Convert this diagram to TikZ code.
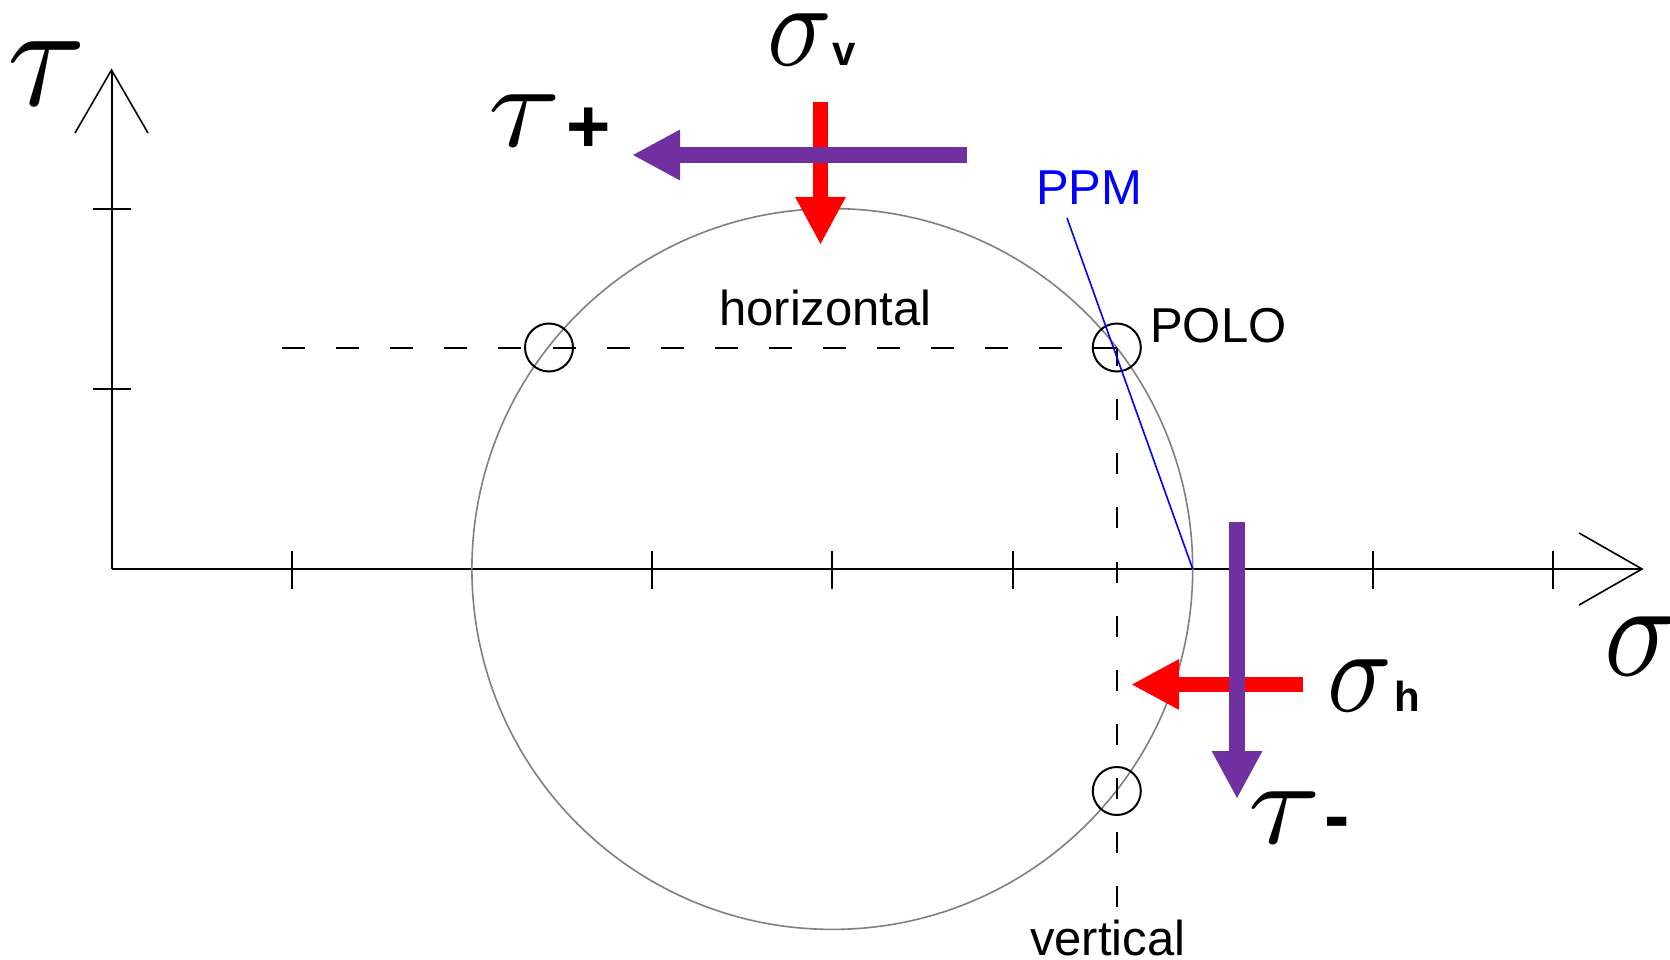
\documentclass[tikz,border=0pt]{standalone}
\usepackage{fontspec}
\usepackage{graphicx}
\setmainfont{Liberation Sans}
\usetikzlibrary{arrows.meta}
\definecolor{arrpurple}{HTML}{7030A0}
\definecolor{arrred}{HTML}{FF0000}
\definecolor{circgray}{HTML}{808080}
\definecolor{ppmblue}{HTML}{0000FF}
\newcommand{\gsig}[2]{\scalebox{#1}[#2]{$\sigma$}}
\newcommand{\gtau}[2]{\scalebox{#1}[#2]{$\tau$}}
\begin{document}
\begin{tikzpicture}[x=1pt,y=-1pt,
  axisline/.style={line width=2pt,black},
  armline/.style={line width=1.6pt,black},
  tickline/.style={line width=2pt,black},
  dashline/.style={line width=2pt,black,dash pattern=on 21pt off 33.1pt},
  mohr/.style={line width=1.6pt,circgray},
  marker/.style={line width=2pt,black},
  force/.style={line width=15.5pt,-{Triangle[length=48pt,width=47pt]}},
  lbl/.style={inner sep=0pt,anchor=base west,font=\fontsize{49}{49}\selectfont},
  greeklbl/.style={inner sep=0pt,anchor=base west},
  subl/.style={inner sep=0pt,anchor=base west,font=\bfseries\fontsize{42}{42}\selectfont},
  signl/.style={inner sep=0pt,anchor=base west,font=\bfseries\fontsize{76}{76}\selectfont},
]
\useasboundingbox (0,0) rectangle (1670,960);
\fill[white] (0,0) rectangle (1670,960);

% axes
\coordinate (O) at (111.5,569);
\coordinate (Ytip) at (111.5,70);
\coordinate (Yl) at (75,133);
\coordinate (Yr) at (148,133);
\coordinate (Xtip) at (1642,569);
\coordinate (Xu) at (1579,533);
\coordinate (Xd) at (1579,605);
\draw[axisline] (O) -- (Ytip);
\draw[axisline] (O) -- (Xtip);
\draw[armline] (Yl) -- (Ytip) -- (Yr);
\draw[armline] (Xu) -- (Xtip) -- (Xd);
\foreach \k in {1,3,4,5,7,8}
  \draw[tickline] ({111.5+\k*180.2},551) -- ++(0,38);
\foreach \k in {1,2}
  \draw[tickline] (93,{569-\k*180.2}) -- ++(38,0);

% Mohr circle
\coordinate (C) at (832.3,569);
\draw[mohr] (C) circle[radius=360.4];

% pole construction
\coordinate (P) at (1116.8,347.5);
\coordinate (Pl) at (549,347.5);
\coordinate (Pb) at (1116.8,791);
\coordinate (Hend) at (282,347.5);
\coordinate (Vend) at (1116.8,907);
\draw[dashline,dash pattern=on 23pt off 31.1pt] (Hend) -- (P);
\draw[dashline,dash phase=2.4pt] (P) -- (Vend);
\draw[marker] (P) circle[radius=24];
\draw[marker] (Pl) circle[radius=24];
\draw[marker] (Pb) circle[radius=24];
\coordinate (S6) at (1192.7,569);
\coordinate (Ptop) at (1067,218);
\draw[line width=1.6pt,ppmblue] (S6) -- (Ptop);

% force arrows
\coordinate (Rv1) at (820.5,102);
\coordinate (Rv2) at (820.5,245);
\coordinate (Ph1) at (967,155);
\coordinate (Ph2) at (632,155);
\coordinate (Rh1) at (1303,684.5);
\coordinate (Rh2) at (1131,684.5);
\coordinate (Pv1) at (1237,522);
\coordinate (Pv2) at (1237,799);
\draw[force,arrred] (Rv1) -- (Rv2);
\draw[force,arrpurple] (Ph1) -- (Ph2);
\draw[force,arrred] (Rh1) -- (Rh2);
\draw[force,arrpurple] (Pv1) -- (Pv2);

% labels
\node[lbl] (horiz) at (719,325) {horizontal};
\node[lbl] (polo) at (1150,342) {POLO};
\node[lbl,text=ppmblue] (ppm) at (1036,205) {PPM};
\node[lbl] (vert) at (1030,955) {vertical};

\node[greeklbl] (sigv) at (767,66) {\gsig{10.7}{12}};
\node[subl] (sigvsub) at (832,66) {v};
\node[greeklbl] (taup) at (488,147) {\gtau{13.2}{12}};
\node[signl] (plus) at (566,152.5) {+};
\node[greeklbl] (sigh) at (1327,711) {\gsig{10.7}{12}};
\node[subl] (sighsub) at (1394,711) {h};
\node[greeklbl] (taum) at (1248,843) {\gtau{13.2}{12}};
\node[signl] (minus) at (1324,841) {-};
\node[greeklbl] (tauax) at (7,106) {\gtau{14.3}{14.8}};
\node[greeklbl] (sigax) at (1604,675) {\gsig{12.1}{13.6}};
\end{tikzpicture}
\end{document}
